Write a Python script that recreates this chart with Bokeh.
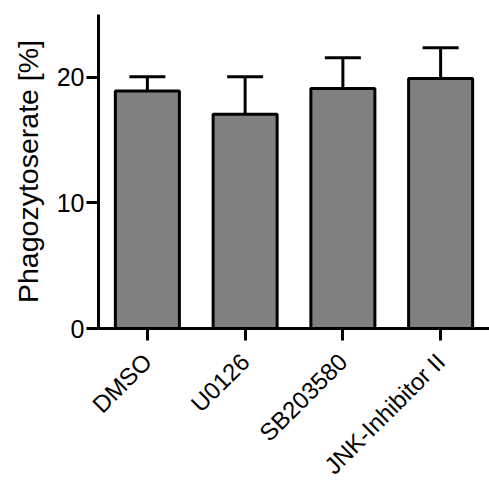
import math
from bokeh.plotting import figure
from bokeh.models import FactorRange, Range1d, ColumnDataSource, Whisker, TeeHead, FixedTicker
from bokeh.embed import file_html
from bokeh.resources import INLINE

# Data
categories = ["DMSO", "U0126", "SB203580", "JNK-Inhibitor II"]
means = [18.9, 17.05, 19.1, 19.9]
errors = [1.15, 3.0, 2.45, 2.45]
y_ticks = [0, 10, 20]

upper = [m + e for m, e in zip(means, errors)]
src = ColumnDataSource(data=dict(cat=categories, top=means, upper=upper))

FONT = "Liberation Sans"

p = figure(
    x_range=FactorRange(factors=categories),
    y_range=Range1d(0, 25),
    width=489, height=492,
    output_backend="svg", toolbar_location=None,
    min_border_left=98, min_border_right=0,
    min_border_top=14, min_border_bottom=164,
)
p.background_fill_color = "white"
p.border_fill_color = "white"
p.outline_line_color = None
p.xgrid.visible = False
p.ygrid.visible = False

p.vbar(x="cat", top="top", width=0.655, source=src,
       fill_color="#808080", line_color="black", line_width=3)

wh = Whisker(base="cat", lower="top", upper="upper", source=src,
             line_color="black", line_width=3,
             upper_head=TeeHead(size=36, line_width=3, line_color="black"),
             lower_head=None)
p.add_layout(wh)

# Y axis
ya = p.yaxis[0]
ya.ticker = FixedTicker(ticks=y_ticks)
ya.axis_label = "Phagozytoserate [%]"
ya.axis_label_text_font = FONT
ya.axis_label_text_font_size = "28.5px"
ya.axis_label_text_font_style = "normal"
ya.axis_label_text_color = "black"
ya.axis_label_standoff = 10
ya.major_label_text_font = FONT
ya.major_label_text_font_size = "25px"
ya.major_label_text_color = "black"
ya.major_label_standoff = 2
ya.axis_line_width = 3
ya.axis_line_color = "black"
ya.major_tick_line_width = 3
ya.major_tick_line_color = "black"
ya.major_tick_out = 12
ya.major_tick_in = 0
ya.minor_tick_line_color = None

# X axis
xa = p.xaxis[0]
xa.major_label_orientation = math.pi / 4
xa.major_label_text_font = FONT
xa.major_label_text_font_size = "24px"
xa.major_label_text_color = "black"
xa.major_label_standoff = 17
xa.axis_line_width = 3
xa.axis_line_color = "black"
xa.major_tick_line_width = 3
xa.major_tick_line_color = "black"
xa.major_tick_out = 12
xa.major_tick_in = 0
xa.minor_tick_line_color = None

open("out.html", "w").write(file_html(p, INLINE))
